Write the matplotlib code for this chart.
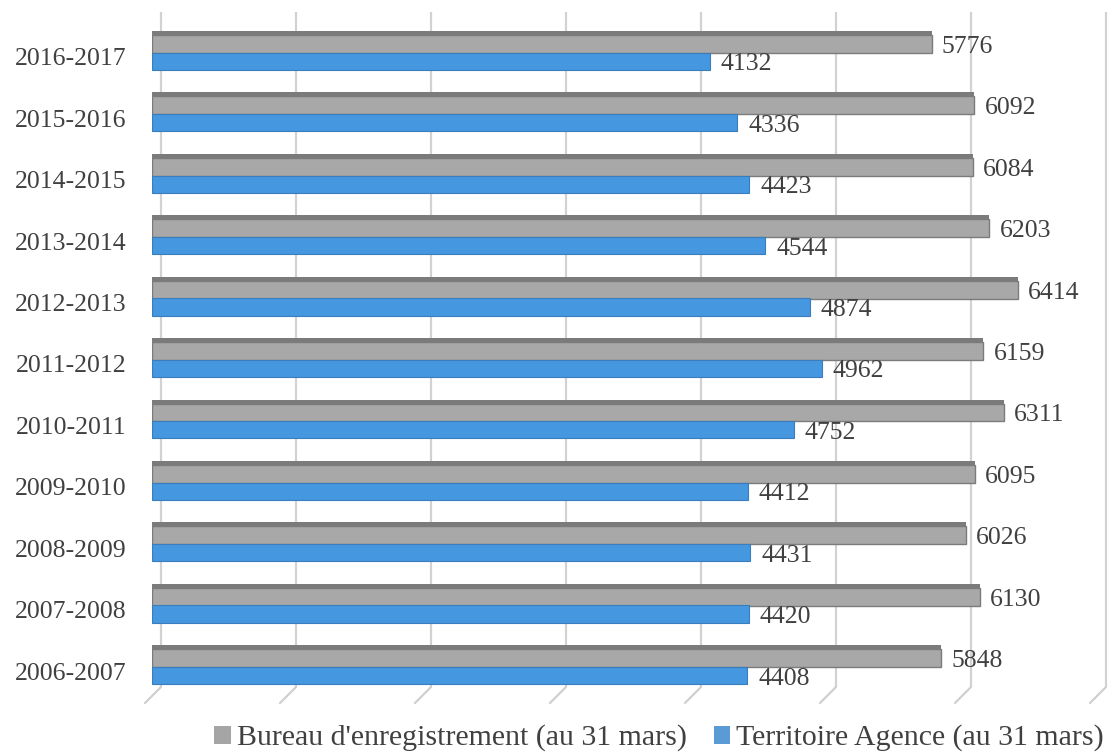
import matplotlib
matplotlib.use("Agg")
import matplotlib.pyplot as plt
from matplotlib.patches import Patch
from matplotlib.transforms import offset_copy

categories = ["2006-2007", "2007-2008", "2008-2009", "2009-2010", "2010-2011",
              "2011-2012", "2012-2013", "2013-2014", "2014-2015", "2015-2016",
              "2016-2017"]
bureau = [5848, 6130, 6026, 6095, 6311, 6159, 6414, 6203, 6084, 6092, 5776]
territoire = [4408, 4420, 4431, 4412, 4752, 4962, 4874, 4544, 4423, 4336, 4132]
series_names = ["Bureau d'enregistrement (au 31 mars)", "Territoire Agence (au 31 mars)"]
grid_ticks = [0, 1000, 2000, 3000, 4000, 5000, 6000, 7000]

W, H = 1110, 756
fig = plt.figure(figsize=(W / 100, H / 100), dpi=100)
ax = fig.add_axes([152 / W, 1 - 687 / H, 945 / W, (687 - 12) / H])

FONT = "Liberation Serif"
TXT = "#404040"
GRAY = "#a8a8a8"
GRAY_DARK = "#7b7b7b"
BLUE = "#4597e0"
BLUE_DARK = "#3a7dbd"

ax.set_xlim(0, 7000)
ax.set_ylim(-0.26, 10.73)

# back-plane gridlines with 3D "feet"
back = offset_copy(ax.transData, fig=fig, x=9, y=0, units="dots")
ybot, ytop = ax.get_ylim()
for g in grid_ticks:
    ax.plot([g, g], [ybot, ytop], color="#d2d2d2", lw=1.6, transform=back,
            clip_on=False, zorder=0, solid_capstyle="butt")
    ax.annotate("", xy=(g, ybot), xycoords=back, xytext=(-16, -16),
                textcoords="offset pixels",
                arrowprops=dict(arrowstyle="-", color="#cfcfcf", lw=1.6,
                                shrinkA=0, shrinkB=0), annotation_clip=False)

ys = list(range(len(categories)))
g_off, g_h = 0.21, 0.29
t_off, t_h = -0.073, 0.28
strip_h = 0.065

# gray bars: top face strip + front face
ax.barh([y + g_off + g_h / 2 + strip_h / 2 for y in ys], bureau, height=strip_h,
        color=GRAY_DARK, edgecolor="none", zorder=2)
ax.barh([y + g_off for y in ys], bureau, height=g_h, color=GRAY,
        edgecolor=GRAY_DARK, linewidth=1.0, zorder=3)
ax.barh([y + t_off for y in ys], territoire, height=t_h, color=BLUE,
        edgecolor=BLUE_DARK, linewidth=0.8, zorder=3)

for y, v in zip(ys, bureau):
    ax.annotate(f"{v}", xy=(v, y + g_off), xytext=(10, -3),
                textcoords="offset pixels", va="center", ha="left",
                fontsize=18.5, family=FONT, color=TXT)
for y, v in zip(ys, territoire):
    ax.annotate(f"{v}", xy=(v, y + t_off), xytext=(11, -3),
                textcoords="offset pixels", va="center", ha="left",
                fontsize=18.5, family=FONT, color=TXT)

ax.set_yticks(ys)
ax.set_yticklabels(categories, fontsize=18.5, family=FONT, color=TXT)
ax.tick_params(axis="y", length=0, pad=18.5)
ax.set_xticks([])
for s in ax.spines.values():
    s.set_visible(False)
ax.patch.set_alpha(0)

handles = [Patch(facecolor="#a5a5a5", edgecolor="none"),
           Patch(facecolor="#5b9bd5", edgecolor="none")]
leg = fig.legend(handles, series_names, loc="center", ncol=2,
                 bbox_to_anchor=(659 / W, 1 - 738 / H), frameon=False,
                 prop={"family": FONT, "size": 21.5},
                 handlelength=0.55, handleheight=0.55, handletextpad=0.2,
                 columnspacing=0.9, borderpad=0)
for t in leg.get_texts():
    t.set_color(TXT)

fig.savefig("out.png", dpi=100)
